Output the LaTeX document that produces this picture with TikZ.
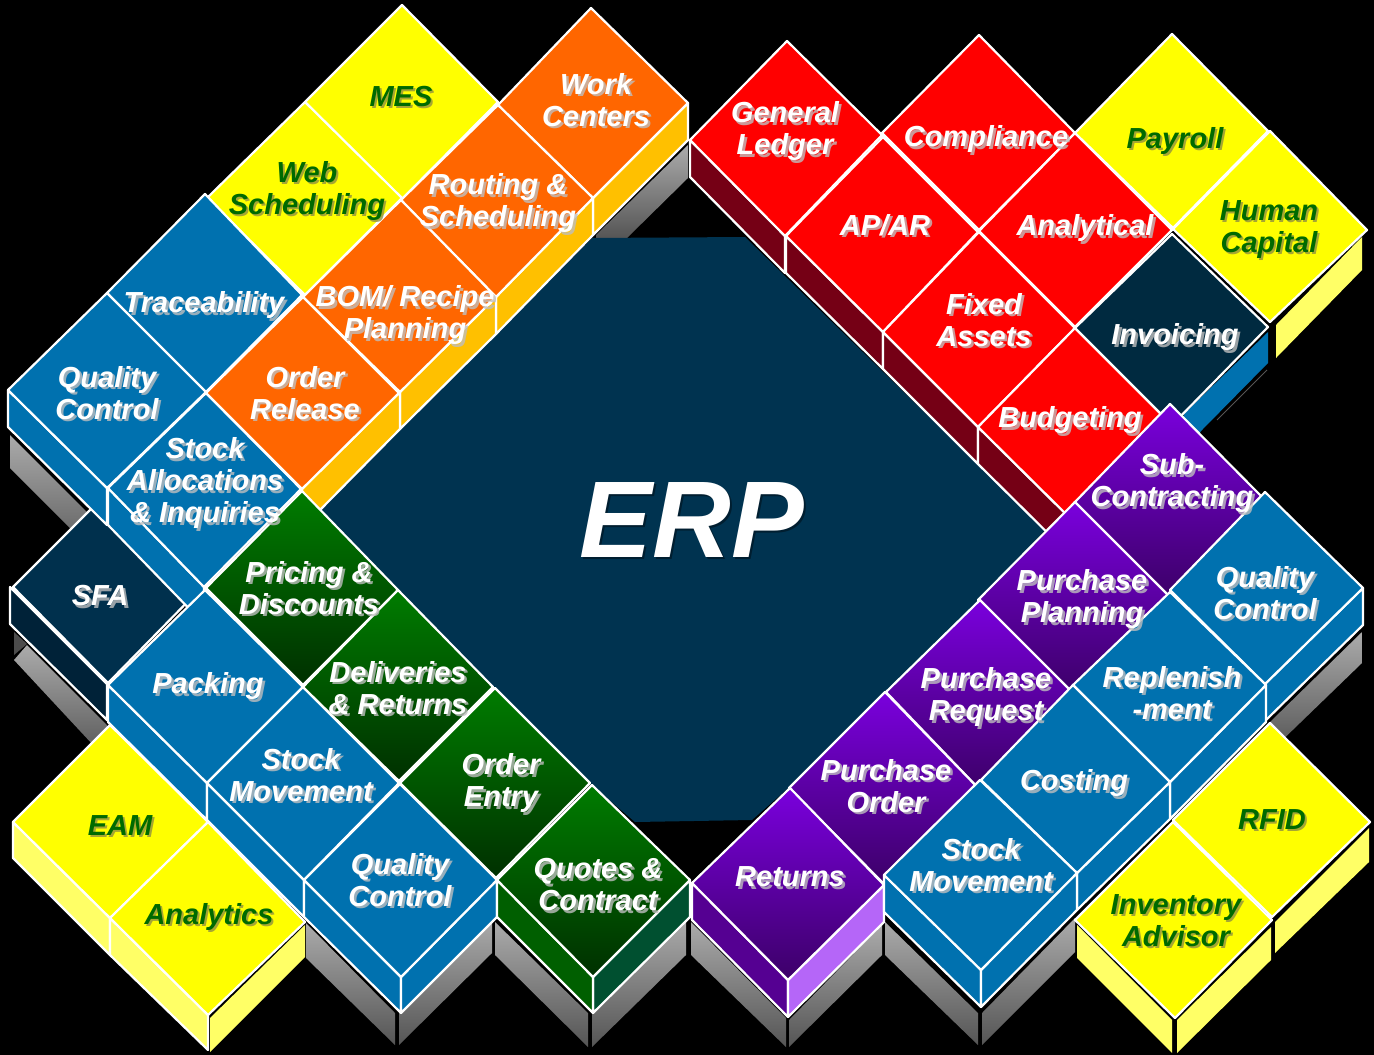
\documentclass[tikz,border=0pt]{standalone}
\usepackage{fontspec}
\setmainfont{Liberation Sans}
\definecolor{tblue}{HTML}{0071AF}
\definecolor{tnavy}{HTML}{003350}
\definecolor{tsfa}{HTML}{00304D}
\definecolor{tinv}{HTML}{002A40}
\definecolor{tsfas}{HTML}{002238}
\definecolor{torange}{HTML}{FF6600}
\definecolor{tamber}{HTML}{FFC000}
\definecolor{tdred}{HTML}{750015}
\definecolor{tyel}{HTML}{FFFF00}
\definecolor{tred}{HTML}{FF0000}
\definecolor{tlyel}{HTML}{FFFF66}
\definecolor{tgreen}{HTML}{006A00}
\definecolor{tlpur}{HTML}{B566F8}
\definecolor{tdgreen}{HTML}{005030}
\definecolor{tmgreen}{HTML}{005F00}
\definecolor{tdpur}{HTML}{550092}
\definecolor{HTMLpurA}{HTML}{7A00DD}
\definecolor{HTMLpurB}{HTML}{3C0068}
\definecolor{HTMLgrnA}{HTML}{007C00}
\definecolor{HTMLgrnB}{HTML}{003000}
\definecolor{HTMLgryA}{HTML}{ABABAB}
\definecolor{HTMLgryB}{HTML}{555555}
\definecolor{HTMLshd}{HTML}{BEBEBE}
\definecolor{HTMLgshd}{HTML}{909040}
\tikzset{
  edge/.style={draw=white,line width=2.2pt,line join=round},
  blue/.style={edge,fill=tblue},
  yel/.style={edge,fill=tyel},
  lyel/.style={edge,fill=tlyel},
  lyeln/.style={fill=tlyel},
  ora/.style={edge,fill=torange},
  amb/.style={edge,fill=tamber},
  redt/.style={edge,fill=tred},
  dred/.style={edge,fill=tdred},
  purg/.style={edge,top color=HTMLpurA,bottom color=HTMLpurB},
  grng/.style={edge,top color=HTMLgrnA,bottom color=HTMLgrnB},
  shad/.style={top color=HTMLgryA,bottom color=HTMLgryB},
  wt/.style={font=\fontsize{29}{32}\selectfont\bfseries\itshape,align=center,text=white,inner sep=0pt},
  wts/.style={wt,text=HTMLshd,opacity=.8},
  gt/.style={wt,text=tgreen},
  gts/.style={wt,text=HTMLgshd,opacity=.8},
  bigt/.style={font=\fontsize{109}{109}\selectfont\bfseries\itshape,text=white,inner sep=0pt},
  bigs/.style={bigt,text=black,opacity=.4},
}
\newcommand{\wlab}[4]{%
  \node[wts] (#1s) at (#2+2.5,#3+2.5) {#4};
  \node[wt] (#1) at (#2,#3) {#4};}
\newcommand{\glab}[4]{%
  \node[gts] (#1s) at (#2+2,#3+2) {#4};
  \node[gt] (#1) at (#2,#3) {#4};}
\begin{document}
\begin{tikzpicture}[x=1pt,y=-1pt]
\useasboundingbox (0,0) rectangle (1374,1055);
\fill[black] (0,0) rectangle (1374,1055);
% shadows
\shade[shad] (10,435)--(107,532)--(107,565)--(10,468)--cycle;
\fill[black!70!white] (14,632)--(27,644)--(14,655)--cycle;
\shade[shad] (14,660)--(27,645)--(107,725)--(107,760)--cycle;
\shade[shad] (306,923)--(395,1013)--(395,1045)--(306,958)--cycle;
\shade[shad] (399,1013)--(492,920)--(492,953)--(399,1045)--cycle;
\shade[shad] (495,922)--(588,1013)--(588,1047)--(495,955)--cycle;
\shade[shad] (592,1013)--(686,920)--(686,955)--(592,1047)--cycle;
\shade[shad] (691,922)--(786,1018)--(786,1047)--(691,955)--cycle;
\shade[shad] (789,1020)--(882,925)--(882,955)--(789,1047)--cycle;
\shade[shad] (885,922)--(978,1013)--(978,1045)--(885,955)--cycle;
\shade[shad] (982,1013)--(1075,918)--(1075,952)--(982,1045)--cycle;
\shade[shad] (1270,722)--(1362,632)--(1362,663)--(1270,752)--cycle;
\shade[shad] (596,235)--(688,145)--(688,178)--(627,238)--(596,238)--cycle;
\draw[HTMLgryB,line width=.8pt] (1267,370)--(1217,420);
% centre
\fill[tnavy] (320,510)--(592,238)--(745,237)--(1045,530)--(900,690)--(752,820)--(635,822)--(480,690)--cycle;
% SFA
\path[edge,fill=tsfas] (10,587)--(107,684)--(107,720)--(10,624)--cycle;
\path[edge,fill=tsfa] (13,587)--(107,493)--(204,585)--(108,683)--cycle;
% yellow top-left
\path[yel] (402,5)--(498,102)--(402,199)--(305,102)--cycle;
\path[yel] (305,102)--(402,198)--(305,295)--(207,198)--cycle;
% blue top-left
\path[blue] (8,390)--(107,488)--(107,525)--(8,427)--cycle;
\path[blue] (108,488)--(204,587)--(204,624)--(108,525)--cycle;
\path[blue] (205,194)--(302,295)--(205,393)--(107,293)--cycle;
\path[blue] (107,293)--(206,392)--(107,488)--(8,390)--cycle;
\path[blue] (206,393)--(301,489)--(204,587)--(108,488)--cycle;
% orange
\path[amb] (593,198)--(593,235)--(688,140)--(688,103)--cycle;
\path[amb] (496,297)--(496,334)--(593,235)--(593,198)--cycle;
\path[amb] (400,392)--(400,429)--(496,334)--(496,297)--cycle;
\path[amb] (302,489)--(302,510)--(320,510)--(400,429)--(400,392)--cycle;
\path[ora] (591,8)--(688,103)--(593,198)--(498,105)--cycle;
\path[ora] (498,105)--(593,198)--(496,297)--(401,200)--cycle;
\path[ora] (401,200)--(496,297)--(400,392)--(303,297)--cycle;
\path[ora] (303,297)--(399,393)--(302,489)--(206,393)--cycle;
% red
\path[dred] (690,140)--(785,236)--(785,273)--(690,177)--cycle;
\path[dred] (786,236)--(883,332)--(883,369)--(786,273)--cycle;
\path[dred] (883,332)--(978,427)--(978,464)--(883,369)--cycle;
\path[dred] (978,427)--(1075,523)--(1075,560)--(978,464)--cycle;
\path[redt] (787,41)--(882,135)--(785,236)--(690,140)--cycle;
\path[redt] (979,35)--(1075,133)--(979,230)--(882,133)--cycle;
\path[redt] (883,137)--(978,232)--(883,332)--(786,236)--cycle;
\path[redt] (1075,133)--(1172,230)--(1075,327)--(979,231)--cycle;
\path[redt] (979,232)--(1075,328)--(978,427)--(883,332)--cycle;
\path[redt] (1075,328)--(1172,425)--(1075,523)--(978,427)--cycle;
% yellow top-right
\path[lyeln] (1276,325)--(1362,237)--(1362,270)--(1276,358)--cycle;
\path[yel] (1172,34)--(1268,131)--(1173,228)--(1075,133)--cycle;
\path[yel] (1270,131)--(1367,230)--(1270,322)--(1173,229)--cycle;
% invoicing
\fill[tblue] (1268,332)--(1268,363)--(1202,430)--(1185,450)--(1165,450)--(1185,413)--cycle;
\path[edge,fill=tinv] (1172,234)--(1268,327)--(1172,425)--(1075,328)--cycle;
% purple
\path[purg] (1170,404)--(1265,500)--(1170,597)--(1074,503)--cycle;
\path[purg] (1075,502)--(1170,597)--(1075,695)--(978,600)--cycle;
\path[purg] (980,600)--(1075,695)--(980,790)--(886,692)--cycle;
\path[purg] (885,692)--(980,790)--(885,885)--(789,788)--cycle;
\path[edge,fill=tdpur] (692,883)--(788,980)--(788,1017)--(692,920)--cycle;
\path[edge,fill=tlpur] (788,980)--(788,1017)--(884,922)--(884,885)--cycle;
\path[purg] (790,788)--(884,885)--(788,980)--(692,883)--cycle;
% blue right
\path[blue] (1265,684)--(1265,721)--(1363,625)--(1363,588)--cycle;
\path[blue] (1170,782)--(1170,819)--(1266,722)--(1266,685)--cycle;
\path[blue] (1077,873)--(1077,910)--(1170,819)--(1170,782)--cycle;
\path[blue] (884,875)--(884,912)--(981,1007)--(981,970)--cycle;
\path[blue] (981,970)--(981,1007)--(1077,910)--(1077,873)--cycle;
\path[blue] (1265,492)--(1363,588)--(1265,684)--(1170,590)--cycle;
\path[blue] (1170,592)--(1266,685)--(1170,782)--(1073,685)--cycle;
\path[blue] (1073,685)--(1170,782)--(1077,873)--(981,780)--cycle;
\path[blue] (980,780)--(1077,873)--(981,970)--(884,875)--cycle;
% blue bottom-left
\path[blue] (108,685)--(108,722)--(207,820)--(207,783)--cycle;
\path[blue] (207,783)--(207,820)--(304,917)--(304,880)--cycle;
\path[blue] (304,880)--(304,917)--(401,1013)--(401,977)--cycle;
\path[blue] (401,977)--(401,1013)--(497,917)--(497,880)--cycle;
\path[blue] (205,590)--(303,687)--(207,783)--(108,685)--cycle;
\path[blue] (303,687)--(399,783)--(304,880)--(207,783)--cycle;
\path[blue] (400,784)--(497,880)--(401,977)--(304,880)--cycle;
% green
\path[grng] (302,491)--(398,590)--(303,685)--(206,588)--cycle;
\path[grng] (398,590)--(493,687)--(399,781)--(303,687)--cycle;
\path[grng] (495,688)--(590,783)--(496,878)--(400,783)--cycle;
\path[edge,fill=tdgreen] (593,977)--(593,1013)--(690,917)--(690,880)--cycle;
\path[edge,fill=tmgreen] (497,880)--(593,977)--(593,1013)--(497,917)--cycle;
\path[grng] (592,785)--(690,880)--(593,977)--(497,880)--cycle;
% yellow bottom-left
\path[lyel] (13,822)--(13,858)--(110,955)--(110,918)--cycle;
\path[lyel] (110,918)--(110,955)--(208,1050)--(208,1015)--cycle;
\path[lyeln] (210,1018)--(210,1052)--(305,957)--(305,925)--cycle;
\path[yel] (110,725)--(208,822)--(110,918)--(13,822)--cycle;
\path[yel] (208,822)--(305,922)--(208,1015)--(110,918)--cycle;
% yellow bottom-right
\path[lyeln] (1275,922)--(1275,953)--(1369,862)--(1369,828)--cycle;
\path[lyeln] (1077,925)--(1077,958)--(1172,1053)--(1172,1020)--cycle;
\path[lyeln] (1177,1020)--(1177,1053)--(1271,960)--(1271,927)--cycle;
\path[yel] (1270,723)--(1370,822)--(1272,917)--(1173,820)--cycle;
\path[yel] (1173,822)--(1272,920)--(1175,1018)--(1075,920)--cycle;
% labels
\glab{mes}{401}{97}{MES}
\glab{web}{307}{191}{Web\\Scheduling}
\glab{payroll}{1175}{141}{Payroll}
\glab{human}{1269}{230}{Human\\Capital}
\glab{eam}{120}{826}{EAM}
\glab{analytics}{209}{917}{Analytics}
\glab{rfid}{1272}{820}{RFID}
\glab{inventory}{1176}{921}{Inventory\\Advisor}
\wlab{work}{596}{100}{Work\\Centers}
\wlab{routing}{498}{203}{Routing \&\\Scheduling}
\wlab{bom}{405}{315}{BOM/ Recipe\\Planning}
\wlab{release}{305}{393}{Order\\Release}
\wlab{trace}{204}{305}{Traceability}
\wlab{qcl}{107}{393}{Quality\\Control}
\wlab{alloc}{205}{483}{Stock\\Allocations\\\& Inquiries}
\wlab{sfa}{100}{596}{SFA}
\wlab{packing}{208}{686}{Packing}
\wlab{pricing}{309}{588}{Pricing \&\\Discounts}
\wlab{deliv}{398}{688}{Deliveries\\\& Returns}
\wlab{entry}{501}{783}{Order\\Entry}
\wlab{quotes}{598}{885}{Quotes \&\\Contract}
\wlab{stockl}{301}{775}{Stock\\Movement}
\wlab{qcb}{400}{880}{Quality\\Control}
\wlab{gl}{785}{131}{General\\Ledger}
\wlab{comp}{986}{139}{Compliance}
\wlab{apar}{885}{225}{AP/AR}
\wlab{anal}{1085}{228}{Analytical}
\wlab{fixed}{984}{320}{Fixed\\Assets}
\wlab{budget}{1070}{420}{Budgeting}
\wlab{inv}{1175}{337}{Invoicing}
\wlab{sub}{1172}{483}{Sub-\\Contracting}
\wlab{pplan}{1082}{599}{Purchase\\Planning}
\wlab{preq}{986}{697}{Purchase\\Request}
\wlab{pord}{886}{786}{Purchase\\Order}
\wlab{ret}{790}{877}{Returns}
\wlab{qcr}{1265}{593}{Quality\\Control}
\wlab{rep}{1172}{693}{Replenish\\-ment}
\wlab{cost}{1074}{783}{Costing}
\wlab{stockr}{981}{865}{Stock\\Movement}
\node[bigs] (erps) at (694,522) {ERP};
\node[bigt] (erp) at (692,520) {ERP};
\end{tikzpicture}
\end{document}
